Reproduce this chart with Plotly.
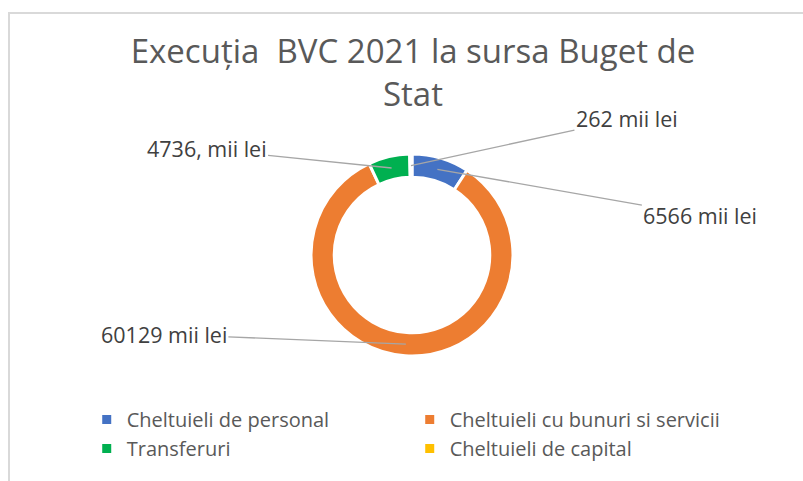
import math
import plotly.graph_objects as go

# ---- data ----
categories = ["Cheltuieli de personal", "Cheltuieli cu bunuri si servicii",
              "Transferuri", "Cheltuieli de capital"]
values = [6566, 60129, 4736, 262]
value_labels = ["6566 mii lei", "60129 mii lei", "4736, mii lei", "262 mii lei"]
colors = ["#4472C4", "#ED7D31", "#00B050", "#FFC000"]
title_text = "Execuția  BVC 2021 la sursa Buget de<br>Stat"

# ---- layout geometry (pixels) ----
W, H = 803, 481
CX, CY, R = 412, 255, 101
HOLE = 0.77
# label offsets (pixels) relative to the slice point
label_offsets = [(263, 46), (-242, -10), (-185, -19), (216, -47)]
FONT = "Open Sans"

fig = go.Figure()
fig.add_trace(go.Pie(
    labels=categories, values=values, hole=HOLE, sort=False,
    direction="clockwise", rotation=0,
    marker=dict(colors=colors, line=dict(color="white", width=3)),
    textinfo="none", hoverinfo="label+value",
    domain=dict(x=[(CX - R) / W, (CX + R) / W], y=[1 - (CY + R) / H, 1 - (CY - R) / H]),
))

total = sum(values)
cum = 0
annotations = []
rmid = R * (1 + HOLE) / 2
for v, txt, (ox, oy) in zip(values, value_labels, label_offsets):
    ang = (cum + v / 2) / total * 2 * math.pi
    cum += v
    px = CX + rmid * math.sin(ang)
    py = CY - rmid * math.cos(ang)
    annotations.append(dict(
        x=px / W, y=1 - py / H, xref="paper", yref="paper",
        text=txt, showarrow=True, arrowhead=0, arrowwidth=1.3, arrowcolor="#A6A6A6",
        ax=ox, ay=oy, font=dict(family=FONT, size=21.5, color="#404040"),
    ))

fig.update_layout(
    width=W, height=H,
    margin=dict(l=0, r=0, t=0, b=0, autoexpand=False),
    paper_bgcolor="white", plot_bgcolor="white",
    font=dict(family=FONT, color="#595959"),
    title=dict(text=title_text, x=413 / W, xanchor="center", y=0.869, yanchor="top",
               yref="container", font=dict(family=FONT, size=33, color="#595959")),
    annotations=annotations,
    showlegend=True,
    legend=dict(orientation="h", x=0.108, xanchor="left", y=1 - 400 / H, yanchor="top",
                entrywidth=278, font=dict(family=FONT, size=20, color="#595959"),
                itemclick=False, bgcolor="rgba(0,0,0,0)"),
    shapes=[dict(type="rect", xref="paper", yref="paper",
                 x0=9 / W, x1=1.05, y0=-0.05, y1=1 - 13 / H,
                 line=dict(color="#D9D9D9", width=2), fillcolor="rgba(0,0,0,0)", layer="below")],
)

fig.write_html("out.html", config={"displayModeBar": False},
               post_script="document.body.style.margin='0';")
